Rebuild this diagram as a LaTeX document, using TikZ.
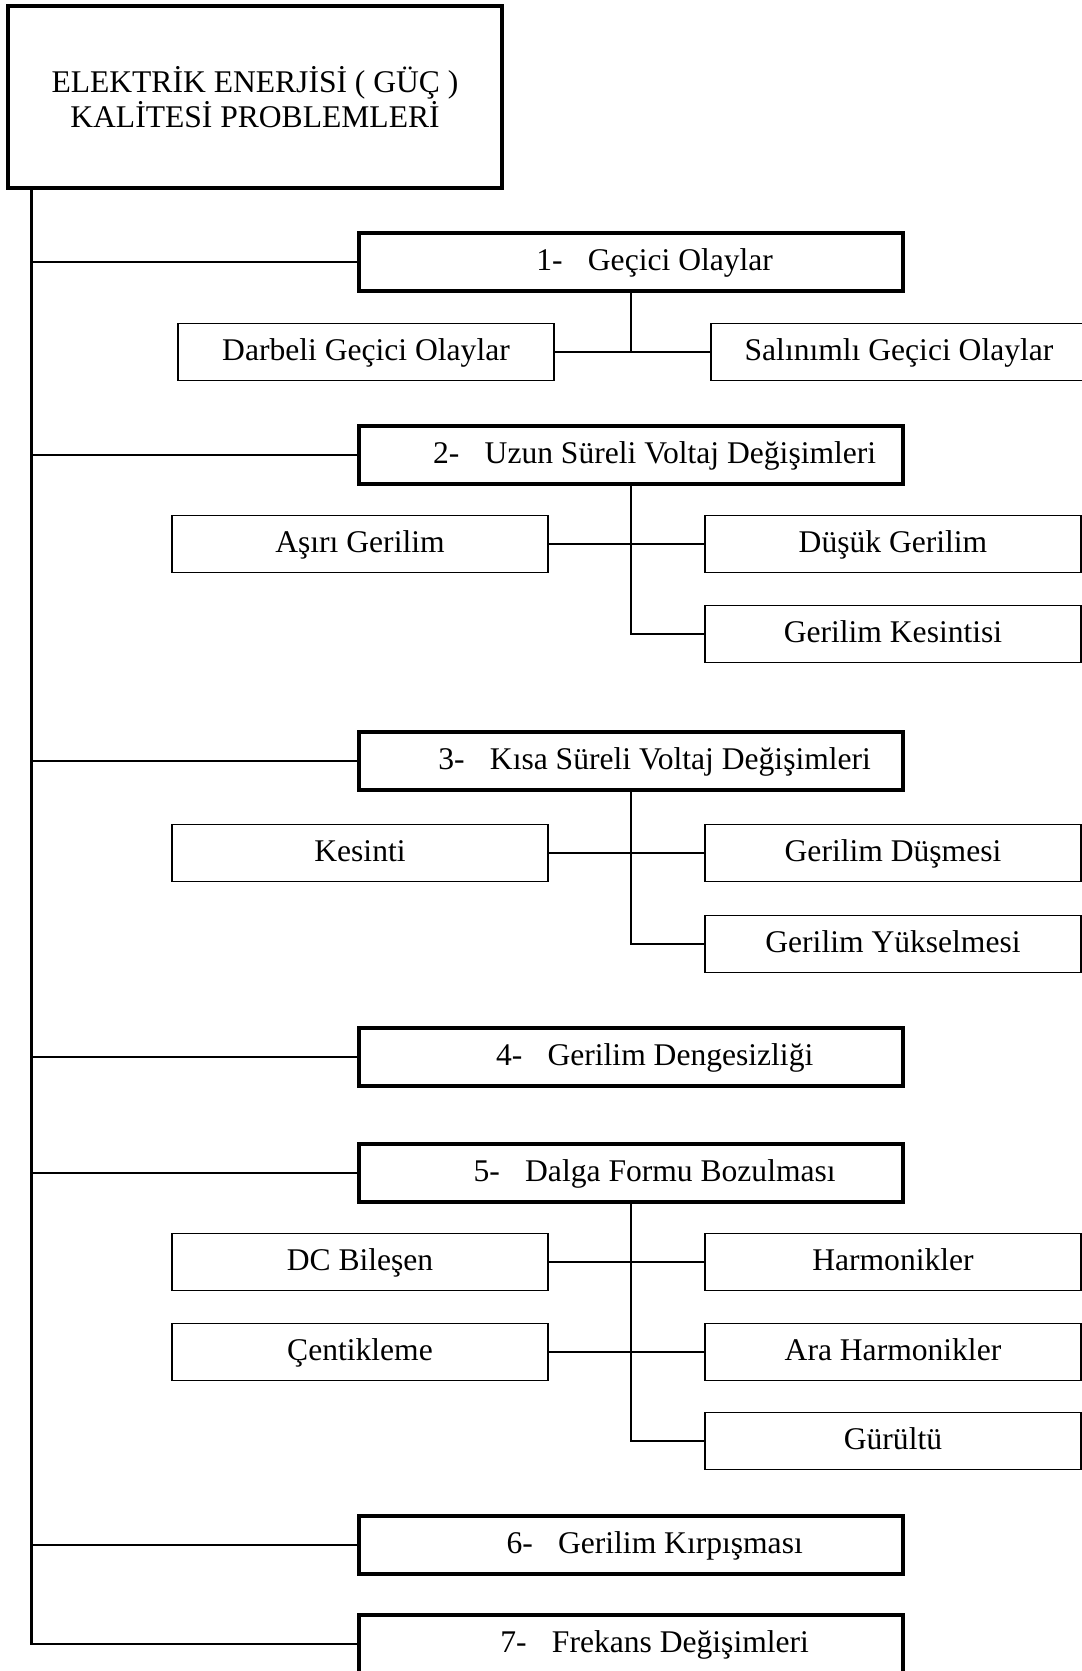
\documentclass[tikz,border=0pt]{standalone}
\usepackage{fontspec}
\setmainfont{Liberation Serif}
\tikzset{
	baslik/.style={draw, line width=1.2pt, minimum width=187.7pt, minimum height=69.2pt, align=center, inner sep=0pt},
	grup/.style={draw, line width=1.2pt, minimum width=206.7pt, minimum height=22pt, inner sep=0pt, text height=0.68em, text depth=0pt},
	alt/.style={draw, line width=0.55pt, minimum width=142.9pt, minimum height=21.7pt, inner sep=0pt, text height=0.68em, text depth=0pt},
	kol/.style={line width=1.05pt},
	bag/.style={line width=0.55pt}
}
\begin{document}
\begin{tikzpicture}[x=0.38pt, y=-0.38pt, font=\fontsize{12}{13.5}\selectfont]
		\useasboundingbox (0,0) rectangle (1082,1671);
		\clip (0,0) rectangle (1082,1671);

		\node[baslik] (ana) at (255,97) {ELEKTRİK ENERJİSİ ( GÜÇ )\\KALİTESİ PROBLEMLERİ};

		\def\gruplar{1/262/Geçici Olaylar,
			2/455/Uzun Süreli Voltaj Değişimleri,
			3/761/Kısa Süreli Voltaj Değişimleri,
			4/1057/Gerilim Dengesizliği,
			5/1173/Dalga Formu Bozulması,
			6/1545/Gerilim Kırpışması,
			7/1644/Frekans Değişimleri}
		\foreach \n/\yy/\ad in \gruplar {
			\node[grup] (g\n) at (631,\yy) {\hspace*{18pt}\n-\hspace{.8em}\ad};
		}

		\coordinate (govde) at ([xshift=9.5pt]ana.south west);
		\draw[kol] (govde) |- (g7.west);
		\foreach \n in {1,...,6}
			\draw[kol] (g\n.west) -- (g\n.west -| govde);

		\def\altlar{darbeli/366/352/Darbeli Geçici Olaylar,
			salinimli/899/352/Salınımlı Geçici Olaylar,
			asiri/360/544/Aşırı Gerilim,
			dusuk/893/544/Düşük Gerilim,
			kesintisi/893/634/Gerilim Kesintisi,
			kesinti/360/853/Kesinti,
			dusme/893/853/Gerilim Düşmesi,
			yukselme/893/944/Gerilim Yükselmesi,
			dc/360/1262/DC Bileşen,
			harm/893/1262/Harmonikler,
			centik/360/1352/Çentikleme,
			araharm/893/1352/Ara Harmonikler,
			gurultu/893/1441/Gürültü}
		\foreach \ad/\xx/\yy/\yazi in \altlar {
			\node[alt] (\ad) at (\xx,\yy) {\yazi};
		}

		\draw[bag] (g1.south) -- (g1.south |- darbeli.east);
		\foreach \g/\s in {2/kesintisi, 3/yukselme, 5/gurultu}
			\draw[bag] (g\g.south) |- (\s.west);
		\foreach \a/\b in {darbeli/salinimli, asiri/dusuk, kesinti/dusme, dc/harm, centik/araharm}
			\draw[bag] (\a) -- (\b);
	\end{tikzpicture}
\end{document}
